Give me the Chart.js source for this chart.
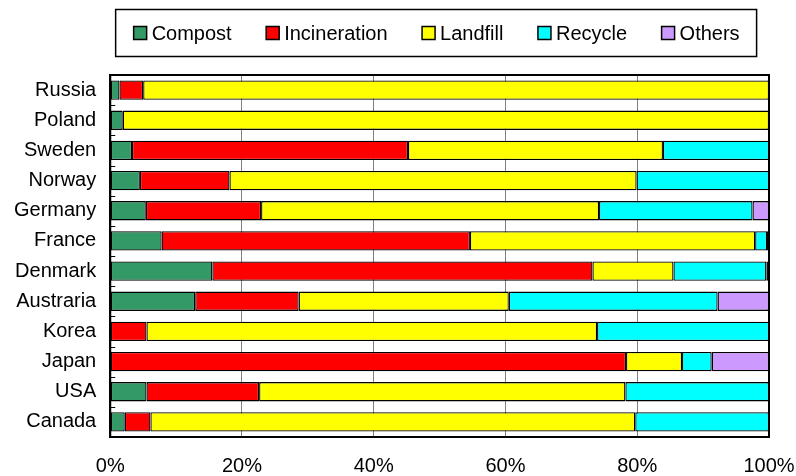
<!DOCTYPE html>
<html>
<head>
<meta charset="utf-8">
<script src="https://cdn.jsdelivr.net/npm/chart.js@4/dist/chart.umd.min.js"></script>
<style>
  html, body { margin: 0; padding: 0; background: #fff; }
  #wrap { width: 796px; height: 476px; }
</style>
</head>
<body>
<div id="wrap"><canvas id="c" width="796" height="476"></canvas></div>
<script>
// Municipal waste treatment share by country (%)
const countries = ['Russia', 'Poland', 'Sweden', 'Norway', 'Germany', 'France',
                   'Denmark', 'Austraria', 'Korea', 'Japan', 'USA', 'Canada'];
const compost      = [1.4, 1.9,  3.3,  4.5,  5.4,  7.8, 15.5, 12.9,  0.0,  0.0,  5.5,  2.2];
const incineration = [3.6, 0.0, 41.9, 13.6, 17.5, 46.8, 57.7, 15.7,  5.5, 78.3, 17.1,  3.9];
const landfill     = [95.0, 98.1, 38.7, 61.8, 51.3, 43.3, 12.3, 31.9, 68.4, 8.5, 55.6, 73.6];
const recycle      = [0.0, 0.0, 16.1, 20.1, 23.3,  1.8, 14.1, 31.7, 26.1,  4.5, 21.8, 20.3];
const others       = [0.0, 0.0,  0.0,  0.0,  2.5,  0.3,  0.4,  7.8,  0.0,  8.7,  0.0,  0.0];
const xTicks = [0, 20, 40, 60, 80, 100];

const FONT = '"Liberation Sans", Arial, Helvetica, sans-serif';

const series = [
  { label: 'Compost',      data: compost,      color: '#339966' },
  { label: 'Incineration', data: incineration, color: '#FF0000' },
  { label: 'Landfill',     data: landfill,     color: '#FFFF00' },
  { label: 'Recycle',      data: recycle,      color: '#00FFFF' },
  { label: 'Others',       data: others,       color: '#CC99FF' }
];

// Framed legend row centred over the plot area
const framedLegend = {
  id: 'framedLegend',
  afterDraw(chart) {
    const { ctx, chartArea } = chart;
    const sw = 13, textGap = 5, itemGap = 34.5, cy = 33;
    ctx.save();
    ctx.font = '20px ' + FONT;
    const items = chart.data.datasets.map(ds => ({ ds, w: ctx.measureText(ds.label).width }));
    const total = items.reduce((s, it) => s + sw + textGap + it.w, 0) + itemGap * (items.length - 1);
    let x = (chartArea.left + chartArea.right) / 2 - 3 - total / 2;
    const frameL = x - 18, frameR = x + total + 17;
    ctx.strokeStyle = '#000';
    ctx.lineWidth = 1.5;
    ctx.strokeRect(frameL, cy - 23.5, frameR - frameL, 47);
    ctx.textBaseline = 'middle';
    items.forEach(it => {
      ctx.fillStyle = it.ds.backgroundColor;
      ctx.fillRect(x, cy - sw / 2, sw, sw);
      ctx.strokeStyle = '#000';
      ctx.lineWidth = 1.5;
      ctx.strokeRect(x, cy - sw / 2, sw, sw);
      ctx.fillStyle = '#000';
      ctx.fillText(it.ds.label, x + sw + textGap, cy + 1);
      x += sw + textGap + it.w + itemGap;
    });
    ctx.restore();
  }
};

// Plot frame and small inside tick marks between categories
const plotFrame = {
  id: 'plotFrame',
  afterDatasetsDraw(chart) {
    const { ctx, chartArea: a, scales } = chart;
    ctx.save();
    ctx.strokeStyle = '#000';
    ctx.lineWidth = 2;
    ctx.strokeRect(a.left, a.top, a.right - a.left, a.bottom - a.top);
    const y = scales.y;
    ctx.lineWidth = 1;
    for (let i = 0; i < countries.length - 1; i++) {
      const py = Math.round((y.getPixelForTick(i) + y.getPixelForTick(i + 1)) / 2) + 0.5;
      ctx.beginPath();
      ctx.moveTo(a.left, py);
      ctx.lineTo(a.left + 5, py);
      ctx.stroke();
    }
    ctx.restore();
  }
};

new Chart(document.getElementById('c'), {
  type: 'bar',
  data: {
    labels: countries,
    datasets: series.map(s => ({
      label: s.label,
      data: s.data,
      backgroundColor: s.color,
      borderColor: '#000',
      borderWidth: 1.3,
      borderSkipped: false,
      categoryPercentage: 1,
      barPercentage: 0.64
    }))
  },
  options: {
    indexAxis: 'y',
    responsive: false,
    animation: false,
    devicePixelRatio: 1,
    layout: { padding: { left: 0, right: 27, top: 75, bottom: 0 } },
    plugins: {
      legend: { display: false },
      tooltip: { enabled: false }
    },
    scales: {
      x: {
        stacked: true,
        min: 0,
        max: 100,
        afterBuildTicks(scale) { scale.ticks = xTicks.map(v => ({ value: v })); },
        afterFit(scale) { scale.height = 39; scale.paddingRight = 0; scale.paddingLeft = 0; },
        grid: { color: '#808080', lineWidth: 1, drawTicks: false },
        border: { color: '#000', width: 2 },
        ticks: {
          color: '#000',
          padding: 17,
          font: { family: FONT, size: 20 },
          callback: v => v + '%'
        }
      },
      y: {
        stacked: true,
        grid: { display: false, drawTicks: false },
        border: { color: '#000', width: 2 },
        ticks: {
          color: '#000',
          padding: 14,
          font: { family: FONT, size: 20 }
        }
      }
    }
  },
  plugins: [framedLegend, plotFrame]
});
</script>
</body>
</html>
